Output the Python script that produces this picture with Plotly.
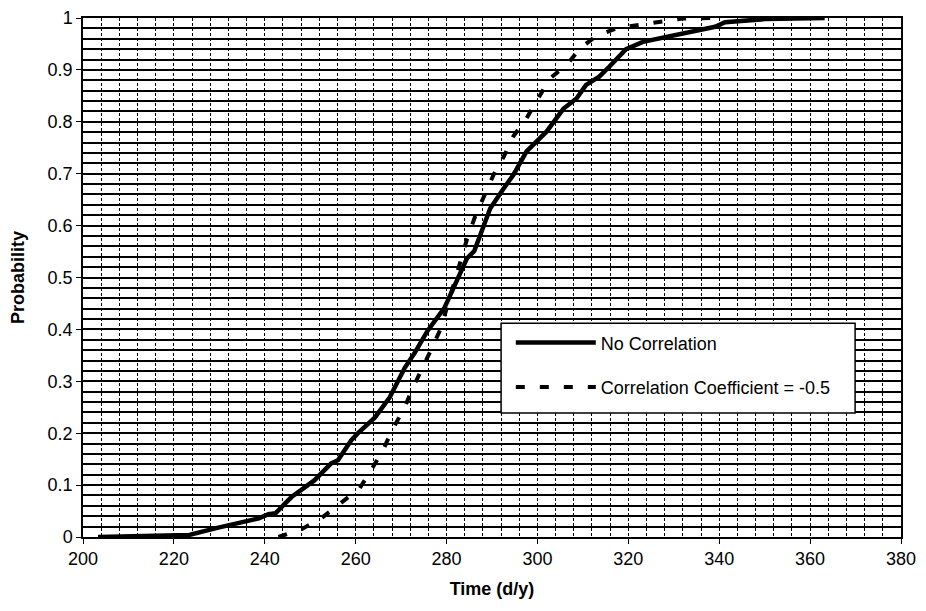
import plotly.graph_objects as go

# No Correlation (solid)
solid_x = [203.3, 210, 216, 223.4, 229.3, 234.3, 238.7, 240.8, 242.4, 245.2, 245.9, 250.9,
           254.6, 256.1, 259.0, 260.5, 264.2, 267.5, 270.8, 273.0, 275.8, 279.5, 281.8,
           283.9, 284.5, 286.1, 287.4, 289.6, 292.6, 294.8, 297.6, 299.8, 302.0, 305.7,
           308.6, 310.7, 313.6, 315.8, 317.3, 319.5, 323.2, 326.7, 331.9, 339.1, 341.3,
           350.1, 363.2]
solid_y = [0.0, 0.002, 0.003, 0.004, 0.017, 0.027, 0.036, 0.044, 0.046, 0.071, 0.077, 0.109,
           0.142, 0.148, 0.186, 0.200, 0.230, 0.269, 0.326, 0.355, 0.397, 0.441, 0.485,
           0.526, 0.537, 0.551, 0.583, 0.633, 0.672, 0.699, 0.743, 0.762, 0.781, 0.825,
           0.845, 0.871, 0.887, 0.906, 0.919, 0.940, 0.954, 0.960, 0.969, 0.983, 0.992,
           0.998, 1.0]

# Correlation Coefficient = -0.5 (dashed)
dash_x = [243.0, 248.1, 252.4, 256.8, 260.9, 263.4, 266.0, 268.2, 270.7, 272.5, 274.7,
          276.5, 278.7, 280.2, 281.6, 283.1, 284.5, 286.3, 288.2, 290.4, 292.6, 294.7,
          297.6, 300.2, 302.7, 306.7, 309.3, 312.9, 317.7, 324.2, 328.0, 331.9, 338.4]
dash_y = [0.0, 0.015, 0.036, 0.065, 0.094, 0.129, 0.167, 0.209, 0.248, 0.286, 0.324,
          0.359, 0.401, 0.445, 0.490, 0.532, 0.574, 0.618, 0.656, 0.699, 0.733, 0.772,
          0.807, 0.845, 0.883, 0.912, 0.941, 0.965, 0.981, 0.989, 0.994, 0.999, 1.0]

series_names = ["No Correlation", "Correlation Coefficient = -0.5"]
x_ticks = [200, 220, 240, 260, 280, 300, 320, 340, 360, 380]
y_ticks = [0, 0.1, 0.2, 0.3, 0.4, 0.5, 0.6, 0.7, 0.8, 0.9, 1]
y_ticktext = ["0", "0.1", "0.2", "0.3", "0.4", "0.5", "0.6", "0.7", "0.8", "0.9", "1"]

FONT = "Liberation Sans, Arial, sans-serif"
FS = 18

fig = go.Figure()
fig.add_trace(go.Scatter(x=solid_x, y=solid_y, mode="lines", name=series_names[0],
                         legendgroup="a",
                         line=dict(color="black", width=4.5)))
fig.add_trace(go.Scatter(x=dash_x, y=dash_y, mode="lines",
                         name=series_names[1], legendgroup="b",
                         line=dict(color="black", width=4, dash="9px,15px")))

# legend frame (white box with black border)
fig.add_shape(type="rect", xref="x", yref="y", x0=292.0, x1=369.9, y0=0.239, y1=0.412,
              line=dict(color="black", width=1.5), fillcolor="white", layer="above")

fig.update_layout(
    width=910, height=595,
    margin=dict(l=75, r=17, t=10, b=66, autoexpand=False),
    paper_bgcolor="white", plot_bgcolor="white",
    font=dict(family=FONT, size=FS, color="black"),
    showlegend=True,
    legend=dict(x=0.523, y=0.4096, xanchor="left", yanchor="top",
                bgcolor="rgba(0,0,0,0)", borderwidth=0,
                font=dict(family=FONT, size=FS, color="black"),
                itemwidth=80, tracegroupgap=18, traceorder="grouped"),
)
fig.update_xaxes(
    range=[200, 380], tickmode="array", tickvals=x_ticks,
    ticks="outside", ticklen=5, tickcolor="black", tickwidth=1,
    showline=True, linecolor="black", linewidth=1.5, mirror=True,
    showgrid=True, gridcolor="black", gridwidth=1.3, griddash="3px,2px",
    minor=dict(dtick=4, tick0=200, showgrid=True, gridcolor="black", gridwidth=1.3,
               griddash="3px,2px"),
    zeroline=False, automargin=False, ticklabeloverflow="allow",
    title=dict(text="<b>Time (d/y)</b>", font=dict(family=FONT, size=FS), standoff=14),
    tickfont=dict(family=FONT, size=FS),
)
fig.update_yaxes(
    range=[0, 1], tickmode="array", tickvals=y_ticks, ticktext=y_ticktext,
    ticks="outside", ticklen=5, tickcolor="black", tickwidth=1,
    showline=True, linecolor="black", linewidth=1.5, mirror=True,
    showgrid=True, gridcolor="black", gridwidth=1.8,
    minor=dict(dtick=0.02, tick0=0, showgrid=True, gridcolor="black", gridwidth=1.8),
    zeroline=False, automargin=False, ticklabeloverflow="allow",
    title=dict(text="<b>Probability</b>", font=dict(family=FONT, size=FS), standoff=18),
    tickfont=dict(family=FONT, size=FS),
)

fig.write_html("out.html")
